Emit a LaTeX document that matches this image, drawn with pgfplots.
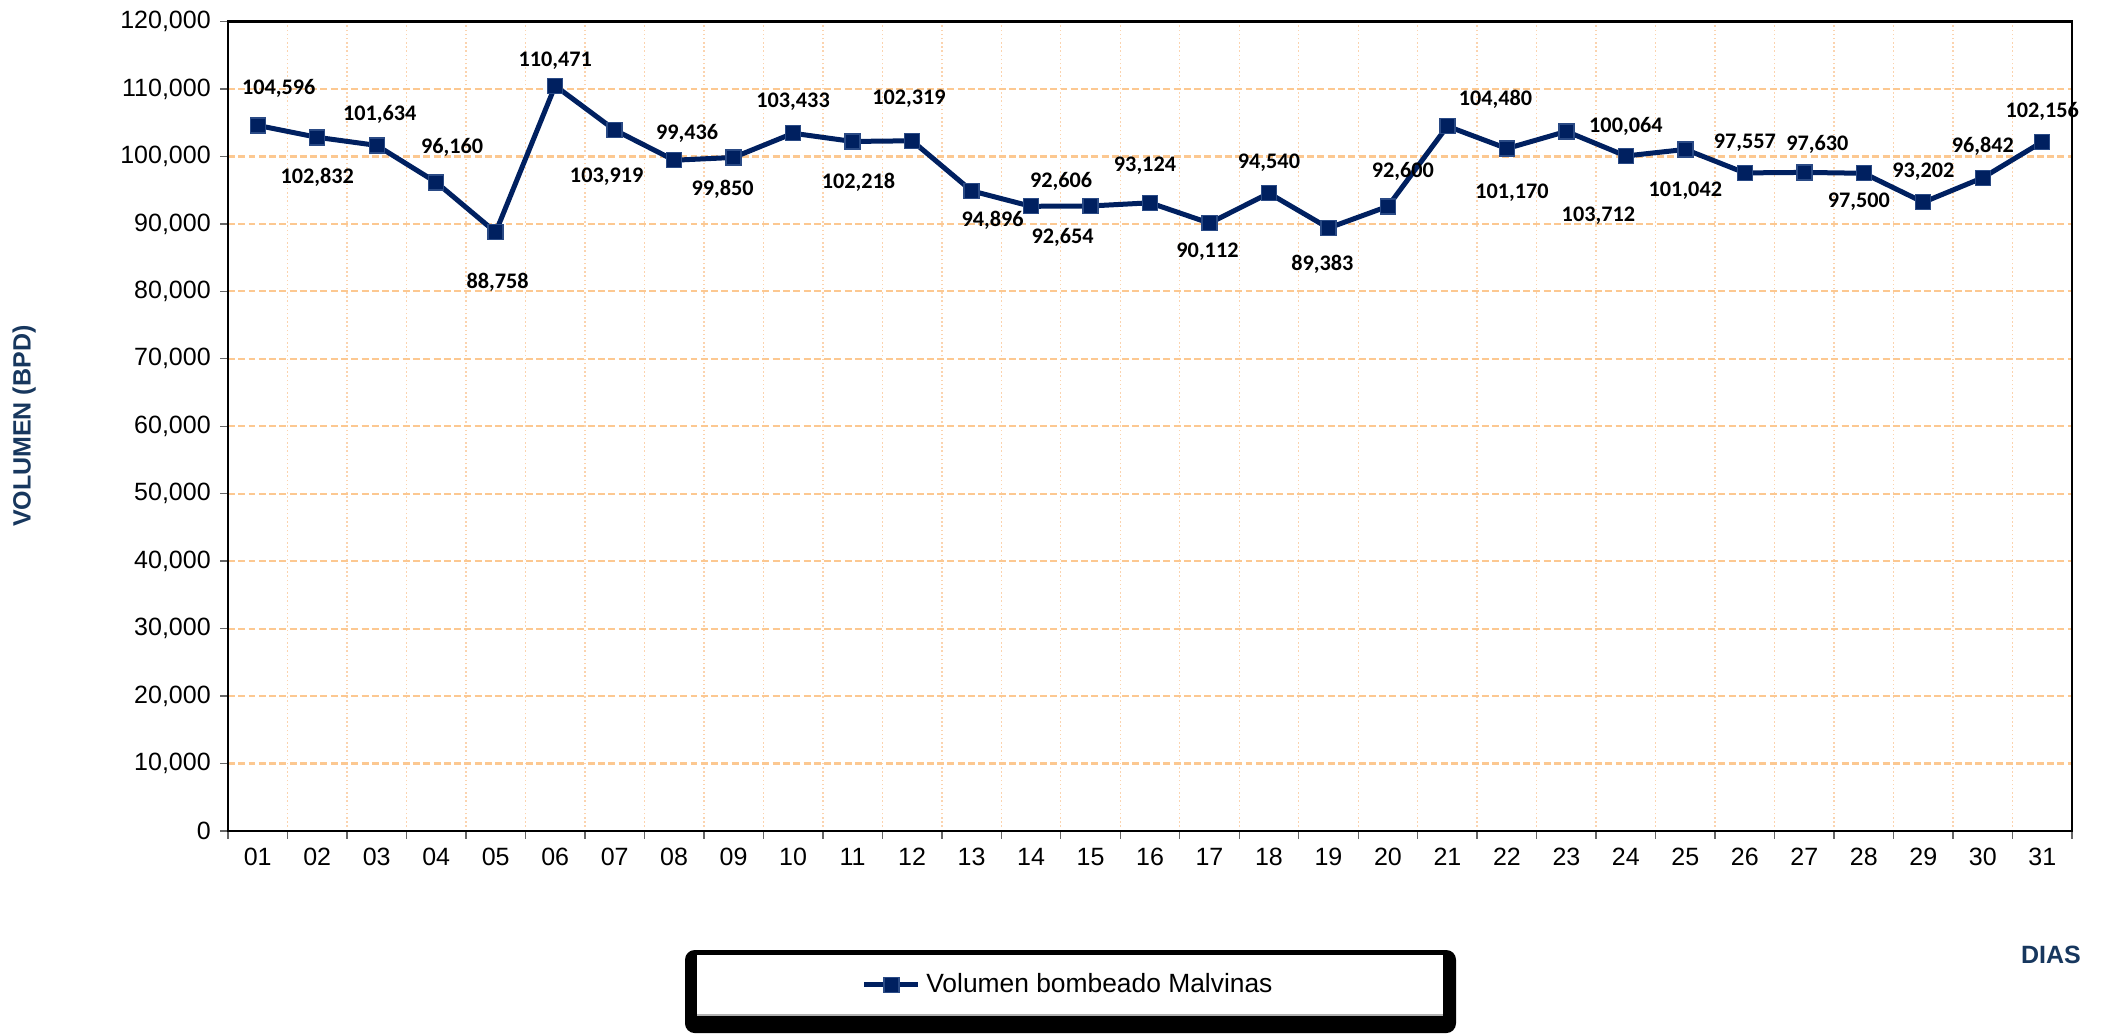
\documentclass[border=0pt]{standalone}
\usepackage{pgfplots}
\pgfplotsset{compat=1.18}
\usepackage{pgfplotstable}
\usepackage{fontspec}
\setmainfont{Liberation Sans}
\newfontfamily\carlito{Carlito}
\definecolor{navy}{HTML}{002060}
\definecolor{navyedge}{HTML}{2A4A85}
\definecolor{gridpeach}{HTML}{FCC891}
\definecolor{vgrid}{HTML}{FBD3AE}
\definecolor{lbl}{HTML}{17375E}

\pgfplotstableread{
x y dx du
1 104596 21 37
2 102832 0 -40
3 101634 3 31
4 96160 16 35
5 88758 2 -50
6 110471 0 25
7 103919 -8 -47
8 99436 13 27
9 99850 -11 -32
10 103433 0 32
11 102218 6 -41
12 102319 -3 42
13 94896 21 -29
14 92606 30 25
15 92654 -28 -31
16 93124 -5 37
17 90112 -2 -29
18 94540 0 31
19 89383 -6 -36
20 92600 15 35
21 104480 48 27
22 101170 5 -44
23 103712 32 -84
24 100064 0 30
25 101042 0 -41
26 97557 0 30
27 97630 13 28
28 97500 -5 -28
29 93202 0 31
30 96842 0 31
31 102156 0 30
}\datatable

\begin{document}
\begin{tikzpicture}
% legend frame
\fill[black, rounded corners=3.5pt] (246.6pt,-342.0pt) rectangle (524.16pt,-371.9pt);
\fill[white] (250.92pt,-343.8pt) rectangle (519.48pt,-365.4pt);
\draw[gray!60, line width=0.5pt] (250.92pt,-365.4pt) -- (519.48pt,-365.4pt);
\begin{axis}[
  at={(82.08pt,-299.16pt)}, anchor=south west,
  scale only axis, width=663.84pt, height=291.42pt,
  xmin=0.5, xmax=31.5, ymin=0, ymax=120000,
  xtick={0.5,1.5,...,31.5},
  xticklabels={01,02,03,04,05,06,07,08,09,10,11,12,13,14,15,16,17,18,19,20,21,22,23,24,25,26,27,28,29,30,31,{}},
  xticklabel style={xshift=10.71pt},
  ytick={0,10000,...,120000},
  scaled y ticks=false,
  /pgf/number format/.cd, fixed, 1000 sep={,}, assume math mode=true, /pgfplots/.cd,
  ticklabel style={font=\fontsize{9}{10}\selectfont},
  tick align=outside, tick pos=left,
  major tick length=2.7pt,
  tick style={color=black!60, line width=0.5pt},
  axis line style={line width=1pt, black},
  xmajorgrids, ymajorgrids,
  x grid style={vgrid, line width=0.5pt, densely dotted},
  y grid style={gridpeach, line width=0.8pt, dash pattern=on 2.5pt off 1.2pt},
  ylabel={VOLUMEN (BPD)},
  ylabel style={at={(axis description cs:-0.1106,0.5)}, anchor=center, font=\bfseries\fontsize{9}{10}\selectfont, text=lbl},
  xlabel={DIAS},
  xlabel style={at={(axis description cs:0.9886,-0.1532)}, anchor=center, font=\bfseries\fontsize{9}{10}\selectfont, text=lbl},
  legend style={at={(axis description cs:0.4566,-0.1902)}, anchor=center, draw=none, fill=none, font=\fontsize{9.5}{11}\selectfont, inner sep=0pt},
  legend image code/.code={\draw[mark repeat=2,mark phase=2,#1] plot coordinates {(0pt,0pt) (9.7pt,0pt) (19.4pt,0pt)};},
]
\addplot[navy, line width=1.8pt, mark=square*, mark size=2.7pt, forget plot,
  mark options={fill=navy, draw=navyedge, line width=0.5pt},
  visualization depends on={\thisrow{dx}\as\dx},
  visualization depends on={\thisrow{du}\as\du},
  nodes near coords={\pgfmathprintnumber[fixed,precision=0,1000 sep={,},assume math mode=true]{\pgfplotspointmeta}},
  every node near coord/.append style={anchor=center, xshift={\dx*0.36pt}, yshift={\du*0.36pt}, font=\carlito\bfseries\fontsize{8}{9}\selectfont, text=black, inner sep=0pt},
] table[x=x,y=y] {\datatable};
\addlegendimage{navy, line width=1.8pt, mark=square*, mark size=2.7pt, mark options={fill=navy, draw=navyedge, line width=0.5pt}}
\addlegendentry{Volumen bombeado Malvinas}
\end{axis}
\pgfresetboundingbox
\path[use as bounding box] (0,0) rectangle (758.16pt,-372.24pt);
\end{tikzpicture}
\end{document}
